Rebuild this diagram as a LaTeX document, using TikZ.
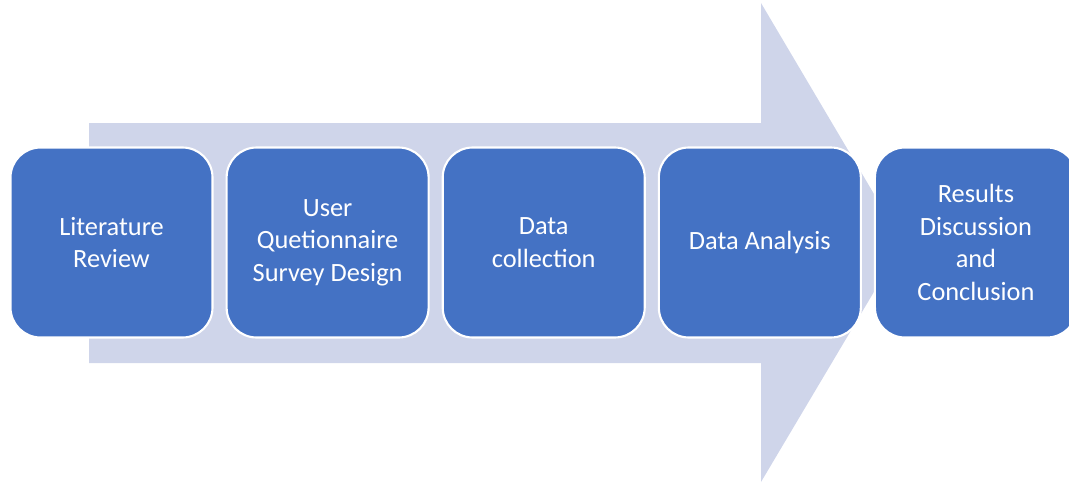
\documentclass[tikz,border=0pt]{standalone}
\usepackage{fontspec}
\setmainfont{Carlito}
\usetikzlibrary{positioning}
\definecolor{stepblue}{HTML}{4472C4}
\definecolor{arrowgray}{HTML}{CFD5EA}

\begin{document}
\begin{tikzpicture}[
  stepbox/.style={rectangle, rounded corners=0.6cm, fill=stepblue, draw=white, line width=1.2pt,
    minimum width=4.04cm, minimum height=3.8cm, text=white, align=center,
    font=\fontsize{15}{18.5}\selectfont},
  node distance=0.24cm]
\useasboundingbox (0,0) rectangle (21.38,9.66);
\clip (0,0) rectangle (21.38,9.66);
% big arrow behind the steps
\fill [arrowgray] (1.78,7.20) -- (15.22,7.20) -- (15.22,9.60) -- (18.06,4.80)
  -- (15.22,0.02) -- (15.22,2.40) -- (1.78,2.40) -- cycle;
% steps
\node [stepbox] (lit) at (2.23,4.81) {Literature\\Review};
\node [stepbox, right=of lit] (survey) {User\\Quetionnaire\\Survey Design};
\node [stepbox, right=of survey] (collect) {Data\\collection};
\node [stepbox, right=of collect] (analysis) {Data Analysis};
\node [stepbox, right=of analysis] (results) {Results\\Discussion\\and\\Conclusion};
\end{tikzpicture}
\end{document}
